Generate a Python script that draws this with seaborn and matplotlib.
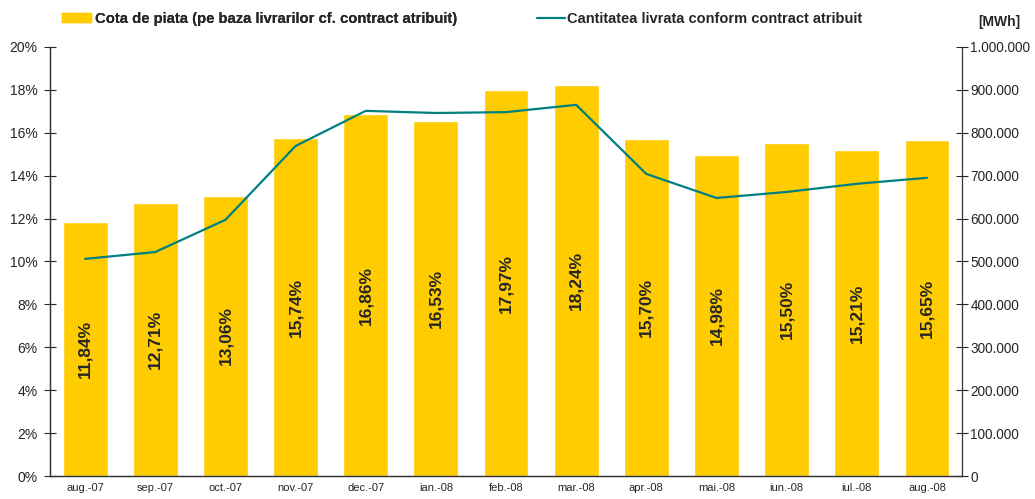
import numpy as np
import pandas as pd
import seaborn as sns
import matplotlib.pyplot as plt
from matplotlib.ticker import FuncFormatter, MultipleLocator
from matplotlib.patches import Patch
from matplotlib.lines import Line2D

# data
months = ["aug.-07", "sep.-07", "oct.-07", "nov.-07", "dec.-07", "ian.-08", "feb.-08",
          "mar.-08", "apr.-08", "mai.-08", "iun.-08", "iul.-08", "aug.-08"]
market_share = [11.84, 12.71, 13.06, 15.74, 16.86, 16.53, 17.97,
                18.24, 15.70, 14.98, 15.50, 15.21, 15.65]
delivered_mwh = [506000, 522000, 597000, 769000, 851000, 846000, 848000,
                 865000, 704000, 648000, 662000, 681000, 695000]

share_label = "Cota de piata (pe baza livrarilor cf. contract atribuit)"
qty_label = "Cantitatea livrata conform contract atribuit"

bar_color = "#FFCC00"
line_color = "#008080"

sns.set_style("white")
plt.rcParams["font.family"] = ["Liberation Sans", "DejaVu Sans"]

df = pd.DataFrame({"luna": months, "cota": market_share, "mwh": delivered_mwh})
pos = np.arange(len(months))

fig = plt.figure(figsize=(10.35, 4.99), dpi=100)
ax = fig.add_axes([0.0483, 0.046, 0.8812, 0.86])

sns.barplot(data=df, x="luna", y="cota", color=bar_color, width=0.64,
            saturation=1, ax=ax)

# rotated value labels, centred at half the bar height
for i, v in enumerate(market_share):
    ax.text(i, v / 2, f"{v:.2f}%".replace(".", ","), rotation=90,
            ha="center", va="center", fontsize=12.5, fontweight="bold")

ax.set_ylim(0, 20)
ax.set_xlim(-0.5, len(months) - 0.5)
ax.yaxis.set_major_locator(MultipleLocator(2))
ax.yaxis.set_major_formatter(FuncFormatter(lambda v, p: f"{v:.0f}%"))
ax.set_xlabel("")
ax.set_ylabel("")

# x ticks sit between categories, labels in the middle
ax.set_xticks(np.arange(-0.5, len(months), 1.0))
ax.set_xticklabels([])
ax.set_xticks(pos, minor=True)
ax.set_xticklabels(months, minor=True, fontsize=8)
ax.tick_params(axis="x", which="minor", length=0, pad=5)
ax.tick_params(axis="x", which="major", direction="inout", length=6, width=0.8)
ax.tick_params(axis="y", direction="inout", length=8, width=0.8, labelsize=10, pad=5)

ax2 = ax.twinx()
sns.lineplot(x=pos, y=delivered_mwh, color=line_color, linewidth=1.6, ax=ax2)
ax2.set_ylim(0, 1000000)
ax2.yaxis.set_major_locator(MultipleLocator(100000))
ax2.yaxis.set_major_formatter(
    FuncFormatter(lambda v, p: f"{int(v):,}".replace(",", ".")))
ax2.tick_params(axis="y", direction="inout", length=8, width=0.8, labelsize=9.8, pad=2)

for a in (ax, ax2):
    a.spines["top"].set_visible(False)
    for s in ("left", "right", "bottom"):
        a.spines[s].set_color("#333333")
        a.spines[s].set_linewidth(0.9)
ax.spines["right"].set_visible(False)

fig.text(0.966, 0.956, "[MWh]", fontsize=10, fontweight="bold", ha="center", va="center")

leg1 = fig.legend(handles=[Patch(color=bar_color, label=share_label)],
                  loc="center left", bbox_to_anchor=(0.047, 0.962), frameon=False,
                  prop={"size": 10.7, "weight": "bold"}, handlelength=1.95,
                  handleheight=0.55, handletextpad=0.25)
leg2 = fig.legend(handles=[Line2D([], [], color=line_color, lw=1.6, label=qty_label)],
                  loc="center left", bbox_to_anchor=(0.506, 0.962), frameon=False,
                  prop={"size": 10.5, "weight": "bold"}, handlelength=1.9,
                  handletextpad=0.2)
fig.add_artist(leg1)

fig.savefig("out.png", dpi=100)
